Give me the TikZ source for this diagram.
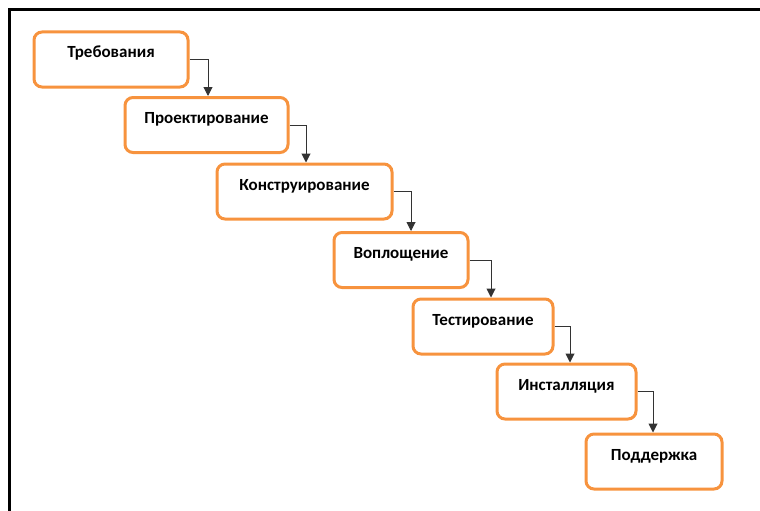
\documentclass[tikz,border=0pt]{standalone}
\usepackage{fontspec}
\setmainfont{Carlito}
\usetikzlibrary{arrows.meta}
\definecolor{steporange}{RGB}{247,147,62}
\begin{document}
\begin{tikzpicture}[x=1pt, y=-1pt,
    stagebox/.style={draw=steporange, line width=3pt, rounded corners=8pt, fill=white,
        inner xsep=0pt, inner ysep=0pt, align=center, text height=26pt, text depth=29pt,
        font=\bfseries\fontsize{17}{19}\selectfont},
    flowarrow/.style={draw=black!80, line width=1pt, -{Triangle[width=9pt,length=9pt]}}]
    \useasboundingbox (0,0) rectangle (760,511);
    % frame
    \draw[line width=3pt] (760,10) -- (9,10) -- (9,511);
    % stages
    \foreach \idx/\cx/\cy/\w/\name in {1/111/59.5/154/Требования, 2/206.5/125/163/Проектирование,
        3/304.5/191.5/175/Конструирование, 4/401/260/134/Воплощение, 5/483/326.5/140/Тестирование,
        6/566.5/391.5/139/Инсталляция, 7/654/461.5/136/Поддержка}{
        \node[stagebox, text width=\w pt] (s\idx) at (\cx,\cy) {\name};
    }
    % connectors
    \foreach \from/\to/\dx in {1/2/1.5, 2/3/1.5, 3/4/10, 4/5/8, 5/6/3.5, 6/7/-1}{
        \draw[flowarrow] (s\from.east) -| ([xshift=\dx pt]s\to.north);
    }
\end{tikzpicture}
\end{document}
